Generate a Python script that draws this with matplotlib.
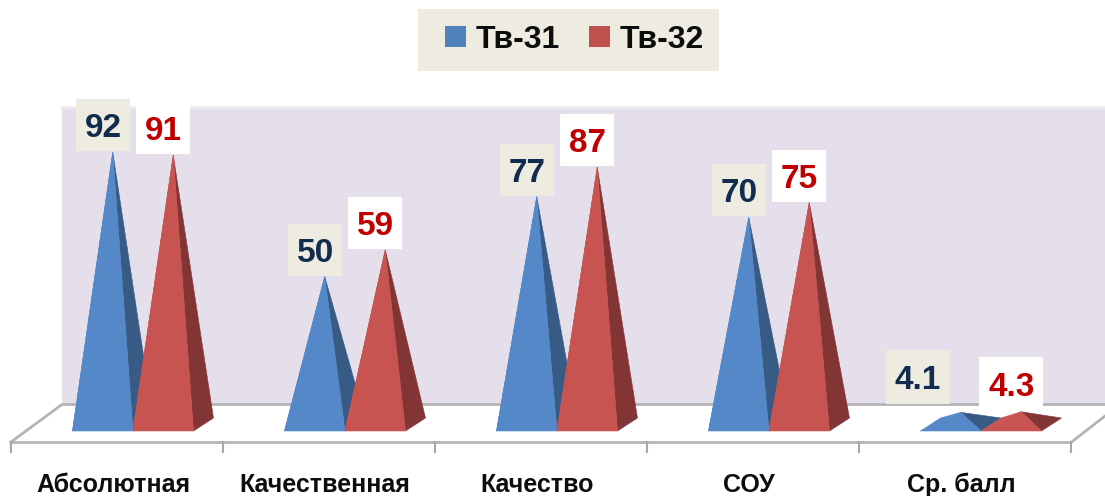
import matplotlib
matplotlib.use("Agg")
import matplotlib.pyplot as plt
from matplotlib.patches import Polygon, Rectangle

categories = ["Абсолютная", "Качественная", "Качество", "СОУ", "Ср. балл"]
series_names = ["Тв-31", "Тв-32"]
tv31 = [92, 50, 77, 70, 4.1]
tv32 = [91, 59, 87, 75, 4.3]
label_31 = ["92", "50", "77", "70", "4.1"]
label_32 = ["91", "59", "87", "75", "4.3"]

W, H = 1105, 496
plt.rcParams["font.family"] = ["Liberation Sans", "DejaVu Sans"]
fig = plt.figure(figsize=(W / 100, H / 100), dpi=100, facecolor="white")
ax = fig.add_axes([0, 0, 1, 1])

# scales: 212 px per category, 2.96 px per value unit
PXC, PXV, X0, Y0 = 212.0, 2.96, 113.0, 431.0
ax.set_xlim((0 - X0) / PXC, (W - X0) / PXC)
ax.set_ylim((Y0 - H) / PXV, Y0 / PXV)
ax.axis("off")
dx = 1 / PXC   # one pixel along x
dy = 1 / PXV   # one pixel along y
XP = lambda p: (p - X0) * dx
YP = lambda p: (Y0 - p) * dy

# wall and floor
ax.add_patch(Polygon([(XP(62), YP(107)), (XP(W), YP(107)), (XP(W), YP(404)), (XP(62), YP(404))],
                     closed=True, fc="#E5DFEC", ec="none", zorder=1))
ax.plot([XP(62), XP(W)], [YP(106.5)] * 2, color="#EEEAF2", lw=2, zorder=1)
ax.plot([XP(11), XP(62), XP(W)], [YP(442), YP(404.5), YP(404.5)],
        color="#B4B4B4", lw=2, zorder=2, solid_joinstyle="miter")
ax.plot([XP(11), XP(1071), XP(W)], [YP(442.5), YP(442.5), YP(416)],
        color="#B4B4B4", lw=2, zorder=2, solid_joinstyle="miter")
for i in range(len(categories) + 1):
    x = i - 0.5 + 4 * dx
    ax.plot([x, x], [YP(442), YP(452)], color="#A6A6A6", lw=1.5, zorder=2)

# pyramids
WIDTH = 60.5 * dx
DX, DY = 20 * dx, 13 * dy
GROUP = 20 * dx
BOX_W, BOX_H = 54 * dx, 52 * dy
BLUE = ("#5588C9", "#375B85", "#122C4E", "#EEECE1")
RED = ("#C85452", "#833535", "#C00000", "#FFFFFF")


def pyramid(x0, v, front, side, z):
    x1 = x0 + WIDTH
    tip = ((x0 + x1) / 2 + DX / 2, v + DY / 2)
    ax.add_patch(Polygon([(x0, 0), (x0 + DX, DY), tip], closed=True, fc=front, ec=front, lw=0.4, zorder=z))
    ax.add_patch(Polygon([(x1, 0), (x1 + DX, DY), tip], closed=True, fc=side, ec=side, lw=0.4, zorder=z))
    ax.add_patch(Polygon([(x0, 0), (x1, 0), tip], closed=True, fc=front, ec=front, lw=0.4, zorder=z + 0.1))
    return tip


def value_box(cx, v, text, fg, bg, wide=False, lift=1.0):
    w = BOX_W * (64 / 54 if wide else 1)
    h = BOX_H * (54 / 52 if wide else 1)
    bottom = v + lift * dy
    ax.add_patch(Rectangle((cx - w / 2, bottom), w, h, fc=bg, ec="none", zorder=6))
    ax.text(cx, bottom + h / 2, text, color=fg, fontsize=24, fontweight="bold",
            ha="center", va="center_baseline", zorder=7)


for i, cat in enumerate(categories):
    start = i + GROUP - WIDTH
    t1 = pyramid(start, tv31[i], BLUE[0], BLUE[1], 3)
    t2 = pyramid(start + WIDTH, tv32[i], RED[0], RED[1], 4)
    small = tv31[i] < 10
    c1 = t1[0] - (43 if small else 9.5) * dx
    c2 = t2[0] - 10 * dx
    value_box(c1, t1[1], label_31[i], BLUE[2], BLUE[3], wide=small, lift=8 if small else 1)
    value_box(c2, t2[1], label_32[i], RED[2], RED[3], wide=small, lift=1)
    ax.text(i, YP(482), cat, fontsize=18, fontweight="bold", color="#0D0D0D",
            ha="center", va="center_baseline", zorder=7)

# legend: panel behind, entries on top
ax.add_patch(Rectangle((XP(418), YP(71)), 301 * dx, 62 * dy, fc="#EEECE1", ec="none", zorder=1))
handles = [Rectangle((0, 0), 1, 1, fc="#4F81BD", ec="none"),
           Rectangle((0, 0), 1, 1, fc="#C0504D", ec="none")]
leg = fig.legend(handles, series_names, loc="center", bbox_to_anchor=(574.5 / W, 1 - 39.5 / H),
                 ncol=2, frameon=False, handlelength=0.66, handleheight=0.66, handletextpad=0.31,
                 columnspacing=0.9, borderpad=0, borderaxespad=0,
                 prop={"size": 23, "weight": "bold"})
for t in leg.get_texts():
    t.set_color("#0D0D0D")

fig.savefig("out.png", dpi=100, facecolor="white")
